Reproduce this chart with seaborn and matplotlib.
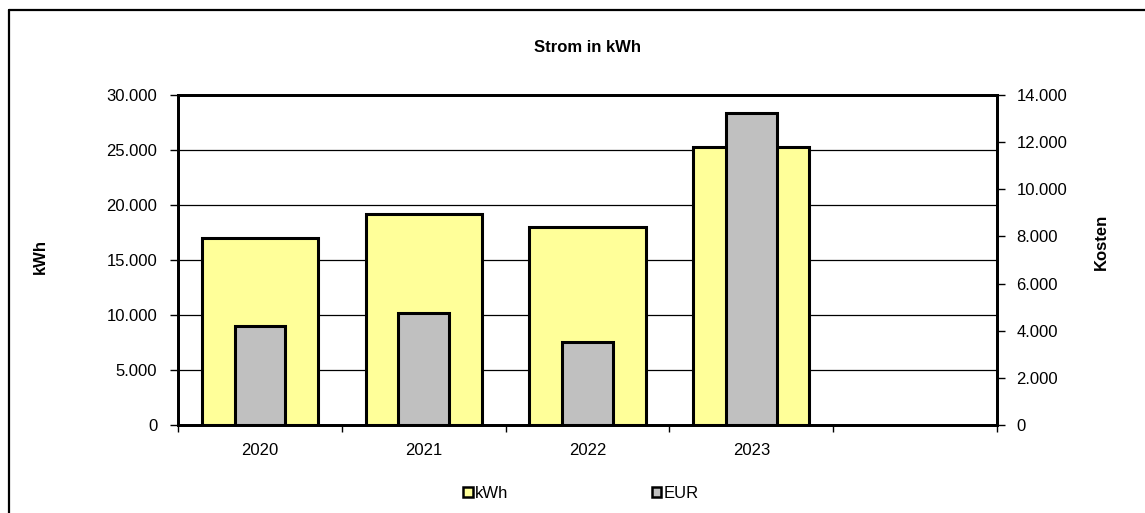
import matplotlib
matplotlib.use("Agg")
import matplotlib.pyplot as plt
from matplotlib.patches import Patch
from matplotlib.lines import Line2D
from matplotlib.ticker import FuncFormatter, FixedLocator
import seaborn as sns
import pandas as pd

# Verbrauch und Kosten je Jahr
jahre = ["2020", "2021", "2022", "2023"]
kwh = [17000, 19150, 18000, 25300]
eur = [4200, 4770, 3520, 13250]

df = pd.DataFrame({"Jahr": jahre, "kWh": kwh, "EUR": eur})

sns.set_theme(style="white")
plt.rcParams["font.family"] = ["Liberation Sans", "DejaVu Sans"]
plt.rcParams["text.color"] = "black"
plt.rcParams["axes.labelcolor"] = "black"

W, H = 1145, 513
fig = plt.figure(figsize=(W / 100, H / 100), dpi=100)
ax = fig.add_axes([178 / W, 1 - 425 / H, (997 - 178) / W, (425 - 95) / H])
ax2 = ax.twinx()

gelb = "#FFFF99"
grau = "#C0C0C0"

sns.barplot(data=df, x="Jahr", y="kWh", ax=ax, color=gelb, saturation=1,
            width=0.71, edgecolor="black", linewidth=2.2, zorder=2)
sns.barplot(data=df, x="Jahr", y="EUR", ax=ax2, color=grau, saturation=1,
            width=0.31, edgecolor="black", linewidth=2.2, zorder=2)

# fünfte, leere Kategorie rechts
for a in (ax, ax2):
    a.set_xlim(-0.5, 4.5)

ax.set_ylim(0, 30000)
ax2.set_ylim(0, 14000)
ax.set_yticks(range(0, 30001, 5000))
ax2.set_yticks(range(0, 14001, 2000))

fmt = FuncFormatter(lambda v, p: f"{v:,.0f}".replace(",", "."))
ax.yaxis.set_major_formatter(fmt)
ax2.yaxis.set_major_formatter(fmt)

ax.grid(axis="y", color="black", linewidth=0.9, zorder=0)
ax.set_axisbelow(True)
ax2.grid(False)

ax.set_xlabel("")
ax.set_ylabel("")
ax2.set_ylabel("")
ax2.set_xlabel("")

# Kategorien: Beschriftung mittig, Striche an den Grenzen
ax.set_xticks(range(len(jahre)))
ax.set_xticklabels(jahre)
ax.xaxis.set_minor_locator(FixedLocator([i - 0.5 for i in range(6)]))
ax.tick_params(axis="x", which="major", length=0, pad=13, labelsize=12, colors="black")
ax.tick_params(axis="x", which="minor", length=5, width=1, direction="out", color="black", bottom=True)
ax.tick_params(axis="y", which="major", length=6, width=1, direction="out", pad=9,
               labelsize=12, colors="black", left=True)
ax2.tick_params(axis="y", which="major", length=6, width=1, direction="out", pad=8,
                labelsize=12, colors="black", right=True)
ax2.tick_params(axis="x", length=0)

for a in (ax, ax2):
    for s in a.spines.values():
        s.set_color("black")
        s.set_linewidth(2)
        s.set_visible(True)

fig.text(588 / W, 1 - 48 / H, "Strom in kWh", ha="center", va="center",
         fontsize=12, fontweight="bold", color="black")
fig.text(40 / W, 1 - 257 / H, "kWh", ha="center", va="center", rotation=90,
         fontsize=12, fontweight="bold", color="black")
fig.text(1101 / W, 1 - 242 / H, "Kosten", ha="center", va="center", rotation=90,
         fontsize=12, fontweight="bold", color="black")

handles = [Patch(facecolor=gelb, edgecolor="black", linewidth=1.8, label="kWh"),
           Patch(facecolor=grau, edgecolor="black", linewidth=1.8, label="EUR")]
leg = fig.legend(handles=handles, loc="center", bbox_to_anchor=(581 / W, 1 - 493 / H),
                 ncol=2, frameon=False, fontsize=12, handlelength=0.55, handleheight=0.55,
                 handletextpad=0.15, columnspacing=8.6)
for t in leg.get_texts():
    t.set_color("black")

# Rahmen um das Diagramm
fig.add_artist(Line2D([8.5 / W, 8.5 / W], [1 - 10 / H, -0.05], color="black", linewidth=1.6))
fig.add_artist(Line2D([8.5 / W, 1.05], [1 - 10 / H, 1 - 10 / H], color="black", linewidth=1.6))

fig.savefig("out.png", dpi=100, facecolor="white")
